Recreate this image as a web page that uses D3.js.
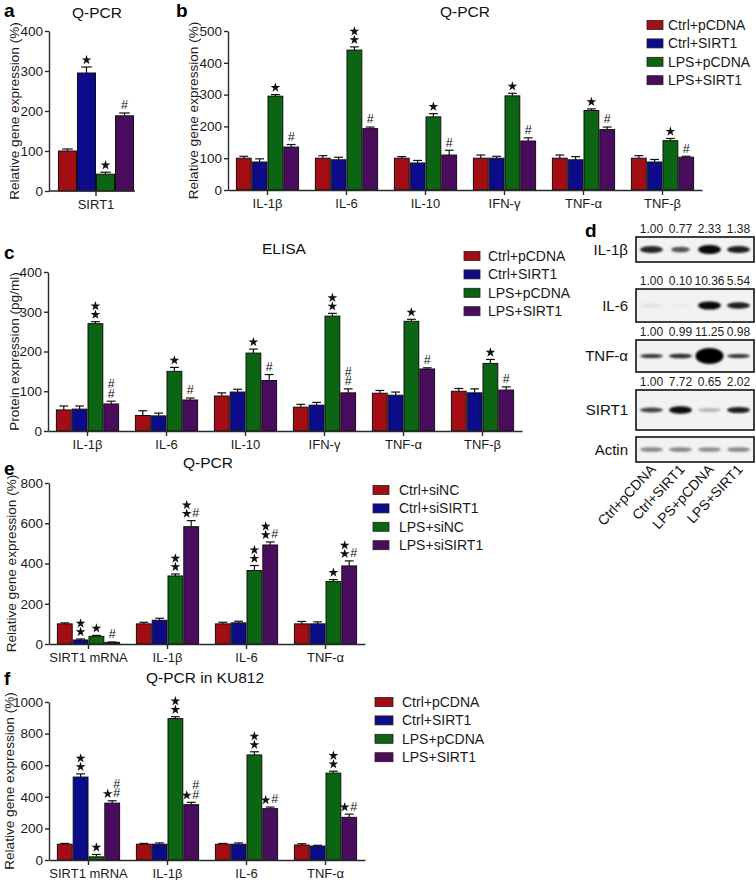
<!DOCTYPE html>
<html><head><meta charset="utf-8">
<script src="https://cdn.jsdelivr.net/npm/d3@7"></script>
<style>
body{margin:0;background:#fff}
svg{font-family:"Liberation Sans",Arial,Helvetica,sans-serif}
</style></head><body><svg id="c" width="756" height="880"></svg>
<script>
// ---------- data ----------
const seriesColors = ["#a30d13","#0c0c8a","#0b6512","#4a0c5c"];
const legendPcdna = ["Ctrl+pCDNA","Ctrl+SIRT1","LPS+pCDNA","LPS+SIRT1"];
const legendSi = ["Ctrl+siNC","Ctrl+siSIRT1","LPS+siNC","LPS+siSIRT1"];

// panel a
const catsA = ["SIRT1"];
const valsA = [[100],[295],[42],[188]];
const errA  = [[5],[15],[5],[7]];
const marksA = [[""],["*"],["*"],["#"]];
const ticksA = [0,100,200,300,400];

// panel b
const catsB = ["IL-1β","IL-6","IL-10","IFN-γ","TNF-α","TNF-β"];
const valsB = [
  [100,100,100,100,100,100],
  [88,95,85,100,95,88],
  [295,440,230,296,250,155],
  [135,193,110,154,190,103]];
const errB = [
  [6,8,5,10,10,8],
  [10,8,8,6,10,8],
  [5,10,10,8,5,7],
  [8,5,15,10,8,3]];
const marksB = [
  ["","","","","",""],
  ["","","","","",""],
  ["*","**","*","*","*","*"],
  ["#","#","#","#","#","#"]];
const ticksB = [0,100,200,300,400,500];

// panel c
const catsC = ["IL-1β","IL-6","IL-10","IFN-γ","TNF-α","TNF-β"];
const valsC = [
  [53,39,88,60,95,100],
  [55,38,98,65,90,96],
  [270,150,196,289,276,170],
  [68,78,127,96,156,103]];
const errC = [
  [10,12,8,7,7,7],
  [8,7,7,7,8,10],
  [5,10,10,7,5,10],
  [7,5,15,10,3,8]];
const marksC = [
  ["","","","","",""],
  ["","","","","",""],
  ["**","*","*","**","*","*"],
  ["##","#","#","##","#","#"]];
const ticksC = [0,100,200,300,400];

// panel e
const catsE = ["SIRT1 mRNA","IL-1β","IL-6","TNF-α"];
const valsE = [
  [100,100,100,100],
  [20,118,105,100],
  [38,338,365,310],
  [8,583,492,388]];
const errE = [
  [5,8,8,12],
  [5,10,8,10],
  [5,10,25,10],
  [2,30,15,25]];
const marksE = [
  ["","","",""],
  ["**","","",""],
  ["*","**","**","*"],
  ["#","**#","**#","**#"]];
const ticksE = [0,200,400,600,800];

// panel f
const catsF = ["SIRT1 mRNA","IL-1β","IL-6","TNF-α"];
const valsF = [
  [100,100,100,95],
  [525,100,100,88],
  [20,895,665,550],
  [360,350,325,270]];
const errF = [
  [5,5,5,8],
  [20,8,8,5],
  [15,12,20,12],
  [15,15,10,20]];
const marksF = [
  ["","","",""],
  ["**","","",""],
  ["*","**","**","**"],
  ["*##","*##","*#","*#"]];
const ticksF = [0,200,400,600,800,1000];

// panel d (western blot)
const blotRows = ["IL-1β","IL-6","TNF-α","SIRT1","Actin"];
const blotRatios = [
  ["1.00","0.77","2.33","1.38"],
  ["1.00","0.10","10.36","5.54"],
  ["1.00","0.99","11.25","0.98"],
  ["1.00","7.72","0.65","2.02"],
  null];
const bandIntensity = [
  [0.85,0.65,0.97,0.88],
  [0.07,0.04,0.97,0.88],
  [0.8,0.82,1,0.8],
  [0.72,0.95,0.25,0.88],
  [0.45,0.45,0.42,0.45]];
const bandThickness = [
  [6,4.5,8,6],
  [3,2,7,5.5],
  [3,3.5,15,3],
  [4,6.5,3,5],
  [3.5,3.5,3.5,3.5]];
const laneLabels = ["Ctrl+pCDNA","Ctrl+SIRT1","LPS+pCDNA","LPS+SIRT1"];

// ---------- drawing ----------
const svg = d3.select("#c");
const defs = svg.append("defs");
defs.append("filter").attr("id","blur").attr("x","-30%").attr("y","-100%").attr("width","160%").attr("height","300%")
  .append("feGaussianBlur").attr("stdDeviation",1.3);

const starPath = d3.symbol().type(d3.symbolStar).size(30)();

function styleAxis(sel){
  sel.select(".domain").attr("stroke","#2a2a2a").attr("stroke-width",1.4);
  sel.selectAll(".tick line").attr("stroke","#2a2a2a").attr("stroke-width",1.4);
  sel.selectAll(".tick text").attr("fill","#1a1a1a").attr("font-family",null);
}

function barPanel(o){
  const g = svg.append("g");
  const x0 = d3.scaleBand().domain(o.cats).range(o.xr).paddingInner(o.pi).paddingOuter(o.po);
  const x1 = d3.scaleBand().domain(d3.range(4)).range([0,x0.bandwidth()]);
  const y = d3.scaleLinear().domain([0,o.ymax]).range(o.yr);
  const bw = x1.bandwidth();

  o.vals.forEach((ser,si)=>{
    const sg = g.append("g");
    const rows = ser.map((v,i)=>({v, e:o.errs[si][i], m:o.marks[si][i], cx:x0(o.cats[i])+x1(si)+bw/2, x:x0(o.cats[i])+x1(si)}));
    sg.selectAll("line.eb").data(rows).join("line").attr("class","eb")
      .attr("x1",d=>d.cx).attr("x2",d=>d.cx).attr("y1",d=>y(d.v)).attr("y2",d=>y(d.v+d.e))
      .attr("stroke","#111").attr("stroke-width",1.2);
    sg.selectAll("line.cap").data(rows).join("line").attr("class","cap")
      .attr("x1",d=>d.cx-bw*0.28).attr("x2",d=>d.cx+bw*0.28).attr("y1",d=>y(d.v+d.e)).attr("y2",d=>y(d.v+d.e))
      .attr("stroke","#111").attr("stroke-width",1.2);
    sg.selectAll("rect").data(rows).join("rect")
      .attr("x",d=>d.x+0.5).attr("y",d=>y(d.v)).attr("width",bw-1).attr("height",d=>y(0)-y(d.v))
      .attr("fill",seriesColors[si]).attr("stroke","#111").attr("stroke-width",1);
    rows.forEach(d=>{
      if(!d.m) return;
      const ns = (d.m.match(/\*/g)||[]).length, nh = (d.m.match(/#/g)||[]).length;
      const top = y(d.v+d.e);
      const both = ns>0 && nh>0;
      const sx = both ? d.cx-4.5 : d.cx, hx = both ? d.cx+4.5 : d.cx;
      for(let k=0;k<ns;k++){
        sg.append("path").attr("d",starPath).attr("fill","#111")
          .attr("transform",`translate(${sx},${top-7-k*8.5})`);
      }
      for(let k=0;k<nh;k++){
        sg.append("text").attr("x",hx).attr("y",top-8-k*9.5).attr("dy","0.35em")
          .attr("text-anchor","middle").attr("font-size",12.5).attr("fill","#111").text("#");
      }
    });
  });

  const ya = g.append("g").attr("transform",`translate(${o.xr[0]},0)`)
    .call(d3.axisLeft(y).tickValues(o.yticks).tickFormat(d3.format("d")).tickSize(4).tickSizeOuter(0).tickPadding(2));
  ya.attr("font-size",13.5);
  styleAxis(ya);
  const xa = g.append("g").attr("transform",`translate(0,${o.yr[0]})`)
    .call(d3.axisBottom(x0).tickSize(5).tickSizeOuter(0).tickPadding(4));
  xa.attr("font-size",13);
  if(o.domainEnd) xa.select(".domain").attr("d",`M${o.xr[0]},0H${o.domainEnd}`);
  styleAxis(xa);

  g.append("text").attr("transform",`translate(${o.ylx},${(o.yr[0]+o.yr[1])/2}) rotate(-90)`)
    .attr("text-anchor","middle").attr("dy","0.35em").attr("font-size",13.6).attr("fill","#1a1a1a").text(o.ylabel);
  g.append("text").attr("x",o.tx).attr("y",o.ty).attr("text-anchor","middle").attr("font-size",15.5).attr("fill","#111").text(o.title);
  g.append("text").attr("x",o.lx).attr("y",o.ly).attr("font-size",19).attr("font-weight","bold").attr("fill","#000").text(o.letter);

  if(o.legend){
    const L = o.legend;
    const lg = g.append("g");
    L.labels.forEach((t,i)=>{
      const cy = L.y + i*L.step;
      lg.append("rect").attr("x",L.x).attr("y",cy-4.5).attr("width",L.w).attr("height",9)
        .attr("fill",seriesColors[i]).attr("stroke","#222").attr("stroke-width",0.8);
      lg.append("text").attr("x",L.tx).attr("y",cy).attr("dy","0.36em").attr("font-size",14).attr("fill","#1a1a1a").text(t);
    });
  }
}

barPanel({cats:catsA, vals:valsA, errs:errA, marks:marksA, yticks:ticksA, ymax:400,
  xr:[49,143], pi:0, po:0.118, domainEnd:135, yr:[191,31],
  ylabel:"Relative gene expression (%)", ylx:14, title:"Q-PCR", tx:97, ty:18, letter:"a", lx:4, ly:17});

barPanel({cats:catsB, vals:valsB, errs:errB, marks:marksB, yticks:ticksB, ymax:500,
  xr:[228,702], pi:0.2, po:0.1, yr:[190,31],
  ylabel:"Relative gene expression (%)", ylx:193, title:"Q-PCR", tx:465, ty:17, letter:"b", lx:176, ly:17,
  legend:{labels:legendPcdna, x:647, w:16, tx:668, y:25, step:18.4}});

barPanel({cats:catsC, vals:valsC, errs:errC, marks:marksC, yticks:ticksC, ymax:400,
  xr:[48,522], pi:0.2, po:0.1, yr:[431,272],
  ylabel:"Protein expression (pg/ml)", ylx:14, title:"ELISA", tx:284, ty:254, letter:"c", lx:4, ly:259,
  legend:{labels:legendPcdna, x:464, w:16, tx:488, y:256, step:18.4}});

barPanel({cats:catsE, vals:valsE, errs:errE, marks:marksE, yticks:ticksE, ymax:800,
  xr:[49,365], pi:0.2, po:0.1, yr:[644,483],
  ylabel:"Relative gene expression (%)", ylx:11, title:"Q-PCR", tx:208, ty:468, letter:"e", lx:4, ly:475,
  legend:{labels:legendSi, x:373, w:16, tx:399, y:490, step:18.4}});

barPanel({cats:catsF, vals:valsF, errs:errF, marks:marksF, yticks:ticksF, ymax:1000,
  xr:[49,365], pi:0.2, po:0.1, yr:[860,702],
  ylabel:"Relative gene expression (%)", ylx:9, title:"Q-PCR in KU812", tx:205, ty:683, letter:"f", lx:4, ly:685,
  legend:{labels:legendPcdna, x:375, w:18, tx:402, y:702, step:18.4}});

// ---- panel d: western blot ----
(function(){
  const g = svg.append("g");
  const lanes = d3.scaleBand().domain(d3.range(4)).range([636,752]);
  const boxTop = [237,289,340,390,437];
  const boxH = [25,33,32,40,25];
  g.append("text").attr("x",585).attr("y",237).attr("font-size",19).attr("font-weight","bold").text("d");
  blotRows.forEach((name,ri)=>{
    const top = boxTop[ri], h = boxH[ri], cy = top + h/2;
    if(blotRatios[ri]){
      g.selectAll(null).data(blotRatios[ri]).join("text")
        .attr("x",(d,i)=>lanes(i)+lanes.bandwidth()/2+1).attr("y",top-4)
        .attr("text-anchor","middle").attr("font-size",12).attr("fill","#222").text(d=>d);
    }
    g.append("rect").attr("x",636).attr("y",top).attr("width",118).attr("height",h)
      .attr("fill","#f2f2f2").attr("stroke","#111").attr("stroke-width",1.6);
    const bg = g.append("g").attr("filter","url(#blur)");
    bg.selectAll("ellipse").data(bandIntensity[ri]).join("ellipse")
      .attr("cx",(d,i)=>lanes(i)+lanes.bandwidth()/2+1)
      .attr("cy",cy)
      .attr("rx",(d,i)=>ri===2&&i===2?14:(ri===0&&i===1?9.5:11.5))
      .attr("ry",(d,i)=>bandThickness[ri][i]/2+0.6)
      .attr("fill","#000").attr("opacity",d=>d);
    g.append("text").attr("x",628).attr("y",cy).attr("dy","0.36em").attr("text-anchor","end")
      .attr("font-size",15).attr("fill","#111").text(name);
  });
  g.selectAll("text.lane").data(laneLabels).join("text").attr("class","lane")
    .attr("transform",(d,i)=>`translate(${lanes(i)+lanes.bandwidth()/2+6},${470}) rotate(-47)`)
    .attr("text-anchor","end").attr("font-size",14).attr("fill","#111").text(d=>d);
})();
</script></body></html>
